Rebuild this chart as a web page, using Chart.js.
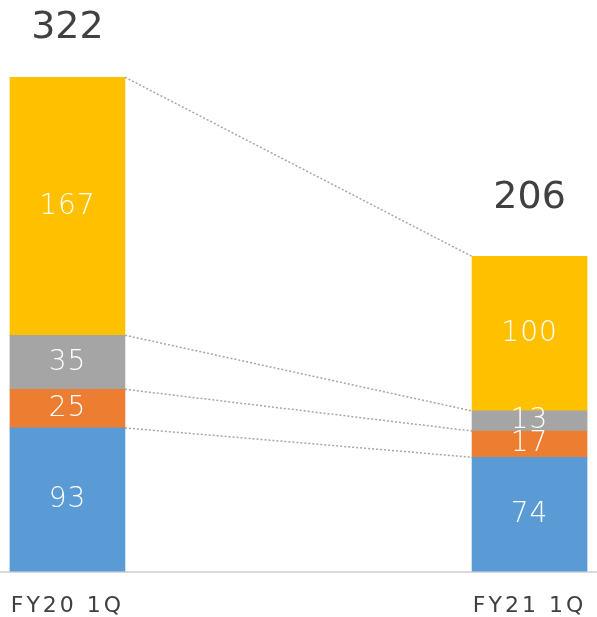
<!DOCTYPE html>
<html>
<head>
<meta charset="utf-8">
<script src="https://cdn.jsdelivr.net/npm/chart.js@4"></script>
<style>
  body { margin: 0; background: #fff; overflow: hidden; }
  #wrap { width: 597px; height: 640px; position: relative; }
</style>
</head>
<body>
<div id="wrap"><canvas id="grafica"></canvas></div>
<script>
// datos
const categorias = ['FY20 1Q', 'FY21 1Q'];
const serieAzul = [93, 74];
const serieNaranja = [25, 17];
const serieGris = [35, 13];
const serieAmarilla = [167, 100];
const totales = [322, 206];

const colores = ['#5B9BD5', '#ED7D31', '#A5A5A5', '#FFC000'];
const series = [serieAzul, serieNaranja, serieGris, serieAmarilla];

// lineas punteadas entre barras + etiquetas
const etiquetasPlugin = {
  id: 'etiquetas',
  beforeDraw(chart) {
    chart.ctx.letterSpacing = '3px';
  },
  beforeDatasetsDraw(chart) {
    const ctx = chart.ctx;
    ctx.letterSpacing = '0px';
    ctx.save();
    ctx.strokeStyle = '#a6a6a6';
    ctx.lineWidth = 1.5;
    ctx.setLineDash([2, 2]);
    for (let i = 0; i < series.length; i++) {
      const a = chart.getDatasetMeta(i).data[0];
      const b = chart.getDatasetMeta(i).data[1];
      ctx.beginPath();
      ctx.moveTo(a.x + a.width / 2, a.y);
      ctx.lineTo(b.x - b.width / 2, b.y);
      ctx.stroke();
    }
    ctx.restore();
  },
  afterDatasetsDraw(chart) {
    const ctx = chart.ctx;
    ctx.save();
    ctx.textAlign = 'center';
    ctx.textBaseline = 'middle';
    ctx.fillStyle = '#ffffff';
    ctx.font = '200 28px "DejaVu Sans"';
    ctx.letterSpacing = '1px';
    series.forEach((s, i) => {
      chart.getDatasetMeta(i).data.forEach((bar, j) => {
        ctx.fillText(String(s[j]), bar.x, (bar.y + bar.base) / 2);
      });
    });
    ctx.fillStyle = '#404040';
    ctx.font = '38px "DejaVu Sans"';
    ctx.letterSpacing = '0px';
    const desfase = [49, 58];
    const top = chart.getDatasetMeta(series.length - 1).data;
    top.forEach((bar, j) => {
      ctx.fillText(String(totales[j]), bar.x, bar.y - desfase[j]);
    });
    ctx.restore();
  }
};

new Chart(document.getElementById('grafica'), {
  type: 'bar',
  data: {
    datasets: series.map((s, i) => ({
      data: s.map((v, j) => ({ x: j, y: v })),
      backgroundColor: colores[i],
      barThickness: 115
    }))
  },
  options: {
    responsive: true,
    maintainAspectRatio: false,
    animation: false,
    layout: { padding: 0 },
    plugins: { legend: { display: false }, tooltip: { enabled: false } },
    scales: {
      x: {
        type: 'linear',
        stacked: true,
        offset: false,
        min: -0.146,
        max: 1.146,
        grid: { display: false, drawTicks: false },
        border: { display: true, color: '#d9d9d9', width: 2 },
        afterBuildTicks: (axis) => { axis.ticks = [{ value: 0 }, { value: 1 }]; },
        ticks: {
          padding: 21,
          color: '#404040',
          font: { family: '"DejaVu Sans"', size: 22 },
          callback: (v, i) => categorias[i]
        }
      },
      y: {
        stacked: true,
        display: false,
        min: 0,
        max: 370
      }
    }
  },
  plugins: [etiquetasPlugin]
});
</script>
</body>
</html>
